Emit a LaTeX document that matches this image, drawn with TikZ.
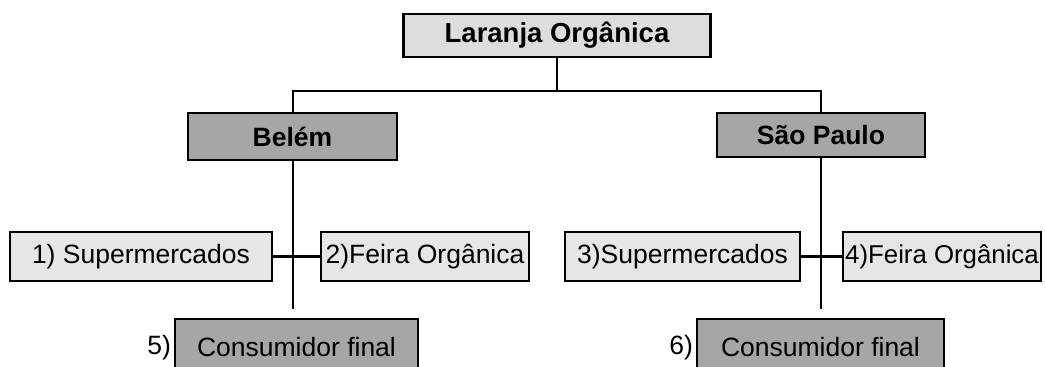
\documentclass[tikz,border=0pt]{standalone}
\usepackage{fontspec}
\setmainfont{Liberation Sans}
\definecolor{topfill}{HTML}{DDDDDD}
\definecolor{darkfill}{HTML}{A6A6A6}
\definecolor{lightfill}{HTML}{E6E6E6}
\begin{document}
\begin{tikzpicture}[x=1pt,y=-1pt,
  base/.style={draw=black, rectangle, inner sep=0pt, anchor=center,
    font=\fontsize{26.5}{30}\selectfont},
  topbox/.style={base, fill=topfill, line width=2.6pt, font=\fontsize{27.5}{31}\selectfont\bfseries},
  citybox/.style={base, fill=darkfill, line width=2.8pt, font=\fontsize{26.5}{30}\selectfont\bfseries},
  outlet/.style={base, fill=lightfill, line width=2.8pt},
  consumer/.style={base, fill=darkfill, line width=1.5pt},
  conn/.style={line width=2.8pt},
  thin/.style={line width=1.3pt},
  numlabel/.style={inner sep=0pt, font=\fontsize{26.5}{30}\selectfont}
]
\clip (0,0) rectangle (1045,367);
\fill[white] (0,0) rectangle (1045,367);

\node[topbox, minimum width=307pt, minimum height=43pt] (top) at (557,35.5) {Laranja Orgânica};
\node[citybox, minimum width=209pt, minimum height=47pt] (belem) at (292.5,136.5) {Belém};
\node[citybox, minimum width=208pt, minimum height=44pt] (sp) at (821,135) {São Paulo};

\node[outlet, minimum width=262pt, minimum height=49pt] (s1) at (141,256.5) {1) Supermercados};
\node[outlet, minimum width=208pt, minimum height=49pt] (f2) at (425,256.5) {2)Feira Orgânica};
\node[outlet, minimum width=235pt, minimum height=49pt] (s3) at (682.5,256.5) {3)Supermercados};
\node[outlet, minimum width=198pt, minimum height=49pt, font=\fontsize{25.8}{30}\selectfont] (f4) at (942,256.5) {4)Feira Orgânica};

\node[consumer, minimum width=243pt, minimum height=56pt] (c5) at (296.5,347) {Consumidor final};
\node[consumer, minimum width=247pt, minimum height=56pt] (c6) at (820.5,347) {Consumidor final};
\node[numlabel, anchor=east] (l5) at ([xshift=-3pt]c5.west |- 0,348) {5)};
\node[numlabel, anchor=east] (l6) at ([xshift=-3pt]c6.west |- 0,348) {6)};

\coordinate (bus) at (557,91);
\coordinate (jb) at (293,256.5);
\coordinate (js) at (821,256.5);
\coordinate (eb) at (293,309);
\coordinate (es) at (821,309);

\draw[conn] (top.south) -- (bus);
\draw[conn] (belem.north -| jb) |- (bus) -| (sp.north);
\draw[conn] (belem.south -| jb) -- (jb);
\draw[conn] (sp.south) -- (js);
\draw[conn] (s1.east) -- (f2.west);
\draw[conn] (s3.east) -- (f4.west);
\draw[thin] (jb) -- (eb);
\draw[thin] (js) -- (es);
\end{tikzpicture}
\end{document}
